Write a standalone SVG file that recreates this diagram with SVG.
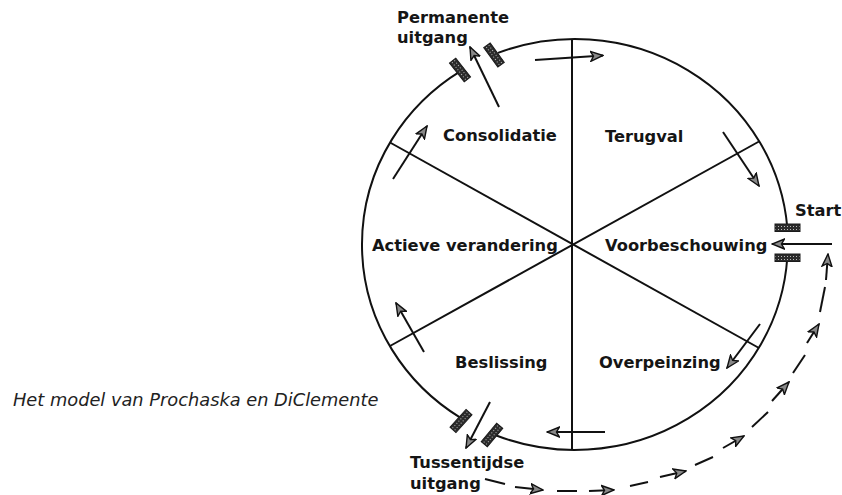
<svg xmlns="http://www.w3.org/2000/svg" width="842" height="495" viewBox="0 0 842 495">
<style>
.lbl{font-family:"DejaVu Sans",Verdana,sans-serif;font-weight:bold;font-size:16.3px;fill:#151515}
.cap{font-family:"DejaVu Sans",Verdana,sans-serif;font-style:italic;font-size:17.8px;fill:#222}
.ln{stroke:#111;stroke-width:2;fill:none}
.ar{stroke:#111;stroke-width:2;fill:none;marker-end:url(#ah)}
.ds{stroke:#111;stroke-width:2;fill:none}
.blk{fill:url(#hatch);stroke:#1a1a1a;stroke-width:1}
</style>
<defs>
<marker id="ah" viewBox="0 0 14 12" refX="13" refY="6" markerWidth="14" markerHeight="12" markerUnits="userSpaceOnUse" orient="auto">
<path d="M0.5,1 L13,6 L0.5,11 L3.5,6 Z" fill="#888" stroke="#111" stroke-width="1.4" stroke-linejoin="miter"/>
</marker>
<pattern id="hatch" width="3" height="3" patternUnits="userSpaceOnUse">
<rect width="3" height="3" fill="#2b2b2b"/>
<rect x="1" y="1" width="1" height="1" fill="#bbb"/>
</pattern>
</defs>
<rect width="842" height="495" fill="#fff"/>

<g id="wheel">
<path class="ln" d="M498,52.9 A213,205.5 0 0 1 787.3,227.5"/>
<path class="ln" d="M787.3,257.5 A213,205.5 0 0 1 495,435"/>
<path class="ln" d="M461,418.1 A213,205.5 0 0 1 461,70.9"/>
<line class="ln" x1="572" y1="39" x2="572" y2="450"/>
<line class="ln" x1="390" y1="142.5" x2="759" y2="348"/>
<line class="ln" x1="390" y1="346" x2="759" y2="141.5"/>
</g>

<g id="gates">
<rect class="blk" x="-12" y="-4" width="24" height="8" transform="translate(460,70) rotate(52)"/>
<rect class="blk" x="-12" y="-4" width="24" height="8" transform="translate(494,55) rotate(54)"/>
<rect class="blk" x="775" y="224" width="25" height="7.5"/>
<rect class="blk" x="775" y="254" width="25" height="7.5"/>
<rect class="blk" x="-12" y="-4" width="24" height="8" transform="translate(461,421) rotate(-48)"/>
<rect class="blk" x="-12" y="-4" width="24" height="8" transform="translate(492,435) rotate(-50)"/>
</g>

<g id="n-terugval"><text class="lbl" x="605" y="142">Terugval</text></g>
<g id="n-voorbeschouwing"><text class="lbl" x="605" y="251">Voorbeschouwing</text></g>
<g id="n-overpeinzing"><text class="lbl" x="599" y="368">Overpeinzing</text></g>
<g id="n-beslissing"><text class="lbl" x="455" y="368">Beslissing</text></g>
<g id="n-actieve"><text class="lbl" x="372" y="251">Actieve verandering</text></g>
<g id="n-consolidatie"><text class="lbl" x="443" y="141">Consolidatie</text></g>
<g id="n-start"><text class="lbl" x="795" y="216">Start</text></g>
<g id="n-permanente"><text class="lbl" x="397" y="23">Permanente</text><text class="lbl" x="397" y="43">uitgang</text></g>
<g id="n-tussentijdse"><text class="lbl" x="410" y="468">Tussentijdse</text><text class="lbl" x="410" y="489">uitgang</text></g>
<g id="caption"><text class="cap" x="13" y="406">Het model van Prochaska en DiClemente</text></g>

<g id="connectors">
<line class="ar" x1="535" y1="60" x2="603" y2="55.5"/>
<line class="ar" x1="723" y1="132" x2="759" y2="186"/>
<line class="ar" x1="832" y1="244" x2="772" y2="244"/>
<line class="ar" x1="760" y1="324" x2="727" y2="368"/>
<line class="ar" x1="605" y1="432" x2="547" y2="432"/>
<line class="ar" x1="424" y1="352" x2="396" y2="303"/>
<line class="ar" x1="393" y1="179" x2="427" y2="126"/>
<line class="ar" x1="499" y1="107" x2="470" y2="47"/>
<line class="ar" x1="490" y1="402" x2="466" y2="448"/>

<line class="ds" x1="485" y1="479" x2="505" y2="484"/>
<line class="ar" x1="515" y1="487" x2="543" y2="490"/>
<line class="ds" x1="557" y1="491" x2="577" y2="491"/>
<line class="ar" x1="589" y1="491" x2="614" y2="490"/>
<line class="ds" x1="630" y1="486" x2="648" y2="482"/>
<line class="ar" x1="660" y1="477" x2="686" y2="471"/>
<line class="ds" x1="695" y1="465" x2="713" y2="457"/>
<line class="ar" x1="723" y1="448" x2="744" y2="436"/>
<line class="ds" x1="752" y1="427" x2="768" y2="412"/>
<line class="ar" x1="772" y1="401" x2="789" y2="382"/>
<line class="ds" x1="793" y1="373" x2="805" y2="355"/>
<line class="ar" x1="807" y1="343" x2="819" y2="324"/>
<line class="ds" x1="820" y1="312" x2="825" y2="287"/>
<line class="ar" x1="826" y1="280" x2="828" y2="254"/>
</g>
</svg>
